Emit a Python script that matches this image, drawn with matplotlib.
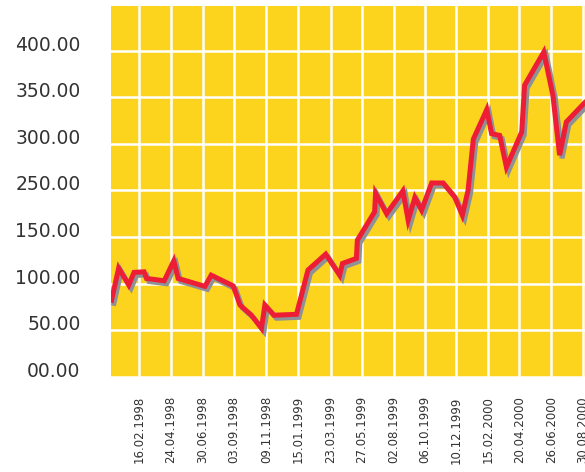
import matplotlib
matplotlib.use("Agg")
import matplotlib.pyplot as plt
import matplotlib.dates as mdates
import matplotlib.patheffects as pe
import pandas as pd

# vertices of the price line (y in axis units)
fechas = [
    "1997-12-21", "1998-01-05", "1998-01-26", "1998-02-06", "1998-02-27",
    "1998-03-04", "1998-04-10", "1998-04-30", "1998-05-09", "1998-07-04",
    "1998-07-17", "1998-09-01", "1998-09-15", "1998-10-09", "1998-10-30",
    "1998-11-06", "1998-11-25", "1999-01-11", "1999-02-04", "1999-03-13",
    "1999-04-11", "1999-04-17", "1999-05-16", "1999-05-18", "1999-06-23",
    "1999-06-25", "1999-07-18", "1999-08-21", "1999-09-01", "1999-09-15",
    "1999-09-29", "1999-10-20", "1999-11-13", "1999-12-07", "1999-12-23",
    "2000-01-04", "2000-01-15", "2000-02-12", "2000-02-22", "2000-03-10",
    "2000-03-24", "2000-04-25", "2000-05-01", "2000-06-10", "2000-06-29",
    "2000-07-13", "2000-07-27", "2000-09-03",
]
valores = [
    82, 116.6, 98.4, 112, 112.6,
    105.5, 103, 124.4, 105.5, 97,
    109, 97.5, 77, 66, 52,
    77, 66, 67, 114.5, 131.6,
    109, 121.6, 127, 146.6, 177,
    197, 175, 199.5, 168, 192.4,
    178.8, 208, 208, 193, 173.4,
    200, 255, 286.8, 261, 259,
    225, 262.8, 313, 348.6, 302,
    237.8, 273.5, 294,
]

ticks_x = [
    "16.02.1998", "24.04.1998", "30.06.1998", "03.09.1998", "09.11.1998",
    "15.01.1999", "23.03.1999", "27.05.1999", "02.08.1999", "06.10.1999",
    "10.12.1999", "15.02.2000", "20.04.2000", "26.06.2000", "30.08.2000",
]
ticks_y = [0, 50, 100, 150, 200, 250, 300, 350]
etiquetas_y = ["00.00", "50.00", "100.00", "150.00", "250.00", "300.00", "350.00", "400.00"]

x = pd.to_datetime(fechas)
xt = pd.to_datetime(ticks_x, format="%d.%m.%Y")

fig = plt.figure(figsize=(5.85, 4.72), dpi=100)
ax = fig.add_axes([111 / 585, 1 - 376.7 / 472, 1 - 111 / 585, (376.7 - 6) / 472])
ax.set_facecolor("#FCD41E")

ax.plot(x, valores, color="#EE1D36", lw=3.6, solid_joinstyle="miter", zorder=3,
        path_effects=[pe.SimpleLineShadow(offset=(1.8, -2.2), shadow_color="#8E9196", alpha=1),
                      pe.Normal()])

ax.set_xlim(pd.Timestamp("1997-12-20"), pd.Timestamp("2000-09-04"))
ax.set_ylim(0, 398)

ax.set_xticks(xt)
ax.set_xticklabels(ticks_x, rotation=90, fontsize=8.5, color="#333333")
ax.set_yticks(ticks_y)
ax.set_yticklabels(etiquetas_y, fontsize=13.5, color="#333333")
for lab in ax.get_yticklabels():
    lab.set_va("baseline")

ax.tick_params(axis="both", length=0)
ax.tick_params(axis="x", pad=14)
ax.tick_params(axis="y", pad=22)

ax.grid(True, color="white", lw=1.8)
ax.set_axisbelow(True)
for s in ax.spines.values():
    s.set_visible(False)

fig.savefig("out.png", dpi=100)
